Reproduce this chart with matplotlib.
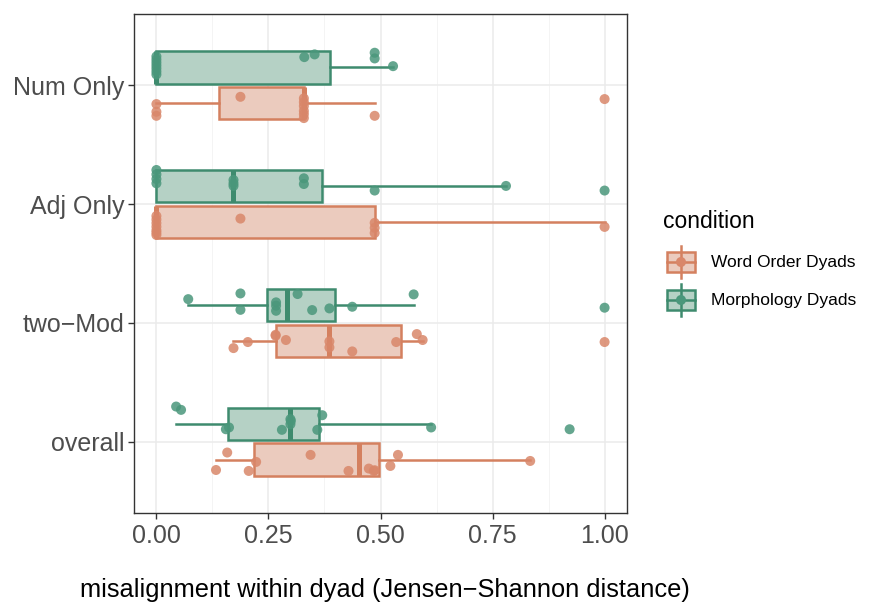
import matplotlib
matplotlib.use("Agg")
import matplotlib.pyplot as plt
import matplotlib.patches as patches
from matplotlib.ticker import MultipleLocator

plt.rcParams['font.family'] = ['Liberation Sans', 'DejaVu Sans']

# categories from bottom to top
categories = ["overall", "two\u2212Mod", "Adj Only", "Num Only"]
conditions = ["Word Order Dyads", "Morphology Dyads"]

word_order = [
    [0.133, 0.158, 0.206, 0.2225, 0.344, 0.4286, 0.474, 0.485, 0.487, 0.522, 0.539, 0.834],
    [0.172, 0.204, 0.266, 0.266, 0.289, 0.386, 0.386, 0.437, 0.535, 0.581, 0.594, 1.0],
    [0, 0, 0, 0, 0, 0, 0, 0.1875, 0.487, 0.487, 0.487, 1.0],
    [0, 0, 0, 0.1875, 0.329, 0.329, 0.329, 0.329, 0.329, 0.329, 0.487, 1.0],
]
morphology = [
    [0.044, 0.055, 0.155, 0.162, 0.28, 0.299, 0.299, 0.30, 0.359, 0.37, 0.613, 0.922],
    [0.071, 0.1875, 0.1875, 0.267, 0.267, 0.267, 0.315, 0.3475, 0.386, 0.437, 0.574, 1.0],
    [0, 0, 0, 0, 0.172, 0.172, 0.172, 0.329, 0.329, 0.487, 0.78, 1.0],
    [0, 0, 0, 0, 0, 0, 0, 0.33, 0.353, 0.487, 0.487, 0.528],
]
# vertical jitter of each point
word_order_jitter = [
    [-0.088, 0.059, -0.096, -0.02, 0.039, -0.096, -0.076, -0.096, -0.09, -0.054, 0.039, -0.012],
    [-0.062, -0.011, 0.05, 0.042, 0.006, -0.006, -0.056, -0.09, -0.011, 0.056, 0.006, -0.011],
    [0.05, 0.02, -0.01, -0.04, -0.07, -0.09, -0.11, 0.028, -0.008, -0.05, -0.093, -0.042],
    [-0.008, -0.073, -0.107, 0.053, 0.04, 0.008, -0.065, -0.093, -0.126, -0.025, -0.107, 0.034],
]
morphology_jitter = [
    [0.146, 0.118, -0.045, -0.03, -0.05, 0.04, -0.003, 0.025, -0.05, 0.073, -0.03, -0.045],
    [0.05, 0.098, -0.04, 0.023, -0.005, -0.048, 0.093, -0.042, -0.028, -0.014, 0.09, -0.022],
    [0.137, 0.10, 0.061, 0.025, 0.053, 0.025, 0.003, 0.067, 0.019, -0.036, 0.003, -0.036],
    [0.093, 0.067, 0.042, 0.017, -0.008, -0.034, -0.059, 0.087, 0.11, 0.124, 0.076, 0.011],
]

edge_colors = ["#D4805F", "#3E8B6E"]
fill_colors = ["#EBCBBE", "#B5D1C5"]
point_colors = ["#D9876A", "#4A977B"]

W, H = 872, 603
fig = plt.figure(figsize=(W / 100, H / 100), dpi=100)

def px(x0, y0, x1, y1):
    return [x0 / W, 1 - y1 / H, (x1 - x0) / W, (y1 - y0) / H]

ax = fig.add_axes(px(134, 14, 627, 513))

offsets = [-0.15, 0.15]
series = [word_order, morphology]
jitters = [word_order_jitter, morphology_jitter]
for k in range(2):
    pos = [i + 1 + offsets[k] for i in range(len(categories))]
    ax.boxplot(series[k], positions=pos, widths=0.27, vert=False, whis=1.5,
               showfliers=False, showcaps=False, patch_artist=True, manage_ticks=False,
               boxprops=dict(facecolor=fill_colors[k], edgecolor=edge_colors[k], linewidth=1.8),
               whiskerprops=dict(color=edge_colors[k], linewidth=1.8),
               medianprops=dict(color=edge_colors[k], linewidth=3.6, solid_capstyle='butt'),
               zorder=3)
    for i in range(len(categories)):
        ys = [pos[i] + j for j in jitters[k][i]]
        ax.scatter(series[k][i], ys, s=52, color=point_colors[k], alpha=0.85,
                   edgecolors='none', zorder=4)

ax.set_xlim(-0.05, 1.05)
ax.set_ylim(0.4, 4.6)
ax.set_yticks(range(1, len(categories) + 1))
ax.set_yticklabels(categories)
ax.set_xticks([0, 0.25, 0.5, 0.75, 1.0])
ax.set_xticklabels(["0.00", "0.25", "0.50", "0.75", "1.00"])
ax.xaxis.set_minor_locator(MultipleLocator(0.125))
ax.grid(which='major', color='#EBEBEB', linewidth=1.1, zorder=0)
ax.grid(which='minor', axis='x', color='#F2F2F2', linewidth=0.6, zorder=0)
ax.set_axisbelow(True)
ax.tick_params(which='major', labelsize=18, labelcolor='#4D4D4D', color='#333333',
               length=4, width=1, pad=3)
ax.tick_params(axis='x', pad=4)
ax.tick_params(which='minor', length=0)
for s in ax.spines.values():
    s.set_color('#333333')
    s.set_linewidth(1.0)

fig.text(385 / W, 1 - 590 / H, "misalignment within dyad (Jensen\u2212Shannon distance)",
         ha='center', va='center', fontsize=18.3, color='black')

# legend
fig.text(663 / W, 1 - 222 / H, "condition", ha='left', va='center', fontsize=16.5)
lax = fig.add_axes([0, 0, 1, 1])
lax.set_xlim(0, W)
lax.set_ylim(H, 0)
lax.axis('off')
for k, yc in zip([0, 1], [262, 300]):
    xc = 681
    lax.plot([xc, xc], [yc - 16, yc + 16], color=edge_colors[k], lw=1.8)
    lax.add_patch(patches.Rectangle((xc - 14, yc - 10), 28, 20, facecolor=fill_colors[k],
                                    edgecolor=edge_colors[k], lw=1.8))
    lax.plot([xc - 14, xc + 14], [yc, yc], color=edge_colors[k], lw=1.8)
    lax.scatter([xc], [yc], s=52, color=point_colors[k], edgecolors='none', zorder=5)
    fig.text(711 / W, 1 - yc / H, conditions[k], ha='left', va='center', fontsize=12.5)

fig.savefig("out.png", dpi=100)
